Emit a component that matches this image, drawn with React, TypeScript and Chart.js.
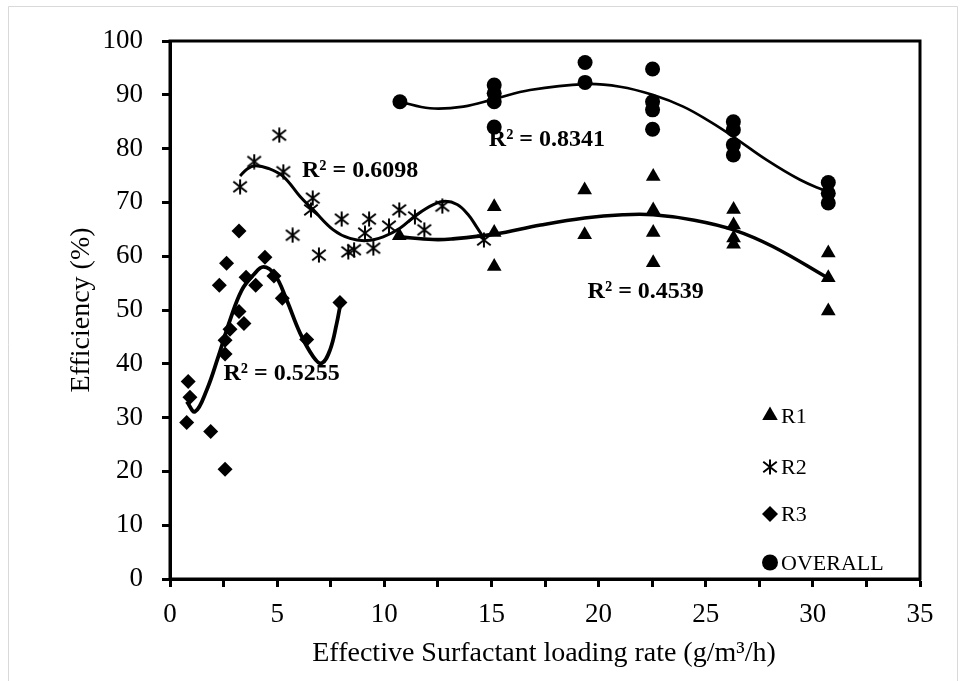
import React, { useEffect, useRef } from 'react';
import { Chart, registerables } from 'chart.js';

Chart.register(...registerables);

const FONT = '"Liberation Serif", "Times New Roman", serif';

// R1 (triangles)
const r1X = [10.7, 15.13, 15.13, 15.13, 19.35, 19.35, 22.55, 22.55, 22.55, 22.55, 26.3, 26.3, 26.3, 26.3, 30.72, 30.72, 30.72];
const r1Y = [63.8, 69.2, 64.4, 58.1, 72.3, 64.0, 74.8, 68.6, 64.4, 58.8, 68.7, 65.8, 63.4, 62.2, 60.6, 56.0, 49.8];

// R2 (asterisks)
const r2X = [3.27, 3.93, 5.1, 5.29, 5.72, 6.58, 6.66, 6.95, 8.01, 8.32, 8.59, 9.1, 9.29, 9.49, 10.22, 10.7, 11.43, 11.87, 12.71, 14.65];
const r2Y = [72.9, 77.6, 82.5, 75.7, 63.9, 68.6, 70.8, 60.2, 66.9, 60.8, 61.2, 64.3, 66.9, 61.5, 65.6, 68.6, 67.3, 64.9, 69.3, 63.0];

// R3 (diamonds)
const r3X = [0.78, 0.85, 0.93, 1.9, 2.3, 2.57, 2.57, 2.57, 2.64, 2.8, 3.22, 3.22, 3.45, 3.55, 4.0, 4.43, 4.85, 5.24, 6.38, 7.93];
const r3Y = [29.1, 36.7, 33.8, 27.4, 54.6, 20.4, 44.4, 41.8, 58.7, 46.4, 64.7, 49.7, 47.5, 56.1, 54.6, 59.8, 56.3, 52.2, 44.5, 51.4];

// OVERALL (circles)
const ovX = [10.73, 15.13, 15.13, 15.13, 15.13, 19.37, 19.37, 22.52, 22.52, 22.52, 22.52, 26.29, 26.29, 26.29, 26.29, 30.72, 30.72, 30.72];
const ovY = [88.7, 91.8, 90.3, 88.7, 84.0, 96.0, 92.3, 94.8, 88.7, 87.2, 83.6, 85.0, 83.5, 80.7, 78.8, 73.7, 71.7, 69.9];

// Trend lines
const r1TrendX = [10.71, 12.29, 13.13, 15.13, 17.3, 19.35, 21.13, 22.55, 24.47, 26.3, 28.13, 30.72];
const r1TrendY = [63.6, 63.1, 63.2, 64.1, 65.8, 67.1, 67.7, 67.7, 66.7, 64.9, 61.8, 55.9];

const r2TrendX = [3.27, 3.6, 3.97, 4.6, 5.29, 6.07, 6.69, 7.62, 8.4, 9.18, 9.95, 10.73, 11.51, 12.29, 12.85, 13.4, 13.9, 14.3, 14.65];
const r2TrendY = [74.9, 76.2, 76.8, 76.3, 74.8, 71.1, 68.6, 64.9, 63.3, 62.9, 63.6, 65.2, 67.7, 69.6, 70.2, 69.6, 67.8, 65.5, 63.3];

const r3TrendX = [0.78, 1.17, 1.71, 2.25, 2.8, 3.35, 3.89, 4.36, 4.9, 5.44, 6.07, 6.69, 7.08, 7.47, 7.78, 7.93];
const r3TrendY = [33.0, 31.1, 35.1, 41.3, 48.1, 53.7, 56.5, 58.0, 56.5, 51.9, 45.7, 41.3, 40.1, 42.6, 47.5, 50.6];

const ovTrendX = [10.73, 12.13, 13.69, 15.13, 16.8, 19.37, 21.0, 22.52, 23.95, 25.2, 26.29, 27.84, 29.4, 30.49, 30.72];
const ovTrendY = [88.7, 87.5, 87.8, 89.2, 90.9, 92.0, 91.5, 90.0, 87.8, 85.0, 82.2, 77.9, 74.2, 72.3, 72.0];

const legendNames = ['R1', 'R2', 'R3', 'OVERALL'];
// R² annotations: centre x and baseline y in data units
const r2Labels = [
  { text: 'R² = 0.6098', x: 8.87, y: 74.7 },
  { text: 'R² = 0.8341', x: 17.59, y: 80.4 },
  { text: 'R² = 0.4539', x: 22.2, y: 52.3 },
  { text: 'R² = 0.5255', x: 5.21, y: 37.0 },
];

const xTitle = 'Effective Surfactant loading rate (g/m³/h)';
const yTitle = 'Efficiency (%)';

function pts(xs: number[], ys: number[]) {
  return xs.map((x, i) => ({ x, y: ys[i] }));
}

function makeAsterisk(size: number, lw: number) {
  const c = document.createElement('canvas');
  c.width = size;
  c.height = size;
  const ctx = c.getContext('2d')!;
  ctx.strokeStyle = '#000';
  ctx.lineWidth = lw;
  const m = size / 2;
  const r = size / 2 - 0.5;
  const dx = r * 0.9;
  const dy = r * 0.7;
  ctx.beginPath();
  ctx.moveTo(m, m - r);
  ctx.lineTo(m, m + r);
  ctx.moveTo(m - dx, m - dy);
  ctx.lineTo(m + dx, m + dy);
  ctx.moveTo(m + dx, m - dy);
  ctx.lineTo(m - dx, m + dy);
  ctx.stroke();
  return c;
}

export default function App() {
  const ref = useRef<HTMLCanvasElement>(null);

  useEffect(() => {
    const canvas = ref.current!;
    const asterisk = makeAsterisk(16, 2);

    const drawMarker = (ctx: CanvasRenderingContext2D, kind: number, x: number, y: number) => {
      ctx.save();
      ctx.fillStyle = '#000';
      ctx.beginPath();
      if (kind === 0) {
        const r = 9;
        ctx.moveTo(x, y - r);
        ctx.lineTo(x + r * Math.sin((2 * Math.PI) / 3), y - r * Math.cos((2 * Math.PI) / 3));
        ctx.lineTo(x + r * Math.sin((4 * Math.PI) / 3), y - r * Math.cos((4 * Math.PI) / 3));
        ctx.closePath();
        ctx.fill();
      } else if (kind === 1) {
        ctx.drawImage(asterisk, x - asterisk.width / 2, y - asterisk.height / 2);
      } else if (kind === 2) {
        const r = 8;
        ctx.moveTo(x, y - r);
        ctx.lineTo(x + r, y);
        ctx.lineTo(x, y + r);
        ctx.lineTo(x - r, y);
        ctx.closePath();
        ctx.fill();
      } else {
        ctx.arc(x, y, 8, 0, Math.PI * 2);
        ctx.fill();
      }
      ctx.restore();
    };

    const decor = {
      id: 'decor',
      beforeDraw(chart: any) {
        const ctx = chart.ctx as CanvasRenderingContext2D;
        ctx.save();
        ctx.fillStyle = '#fff';
        ctx.fillRect(0, 0, chart.width, chart.height);
        ctx.strokeStyle = '#d9d9d9';
        ctx.lineWidth = 1;
        ctx.beginPath();
        ctx.moveTo(8.5, chart.height + 2);
        ctx.lineTo(8.5, 6.5);
        ctx.lineTo(957.5, 6.5);
        ctx.lineTo(957.5, chart.height + 2);
        ctx.stroke();
        ctx.restore();
      },
      afterDraw(chart: any) {
        const ctx = chart.ctx as CanvasRenderingContext2D;
        const a = chart.chartArea;
        const xs = chart.scales.x;
        const ys = chart.scales.y;
        ctx.save();
        // plot frame
        ctx.strokeStyle = '#000';
        ctx.lineWidth = 3;
        ctx.strokeRect(a.left, a.top, a.right - a.left, a.bottom - a.top);

        // R² labels
        ctx.fillStyle = '#000';
        ctx.font = `bold 24px ${FONT}`;
        ctx.textAlign = 'center';
        ctx.textBaseline = 'alphabetic';
        r2Labels.forEach((l) => {
          ctx.fillText(l.text, xs.getPixelForValue(l.x), ys.getPixelForValue(l.y));
        });

        // legend
        ctx.font = `22px ${FONT}`;
        ctx.textAlign = 'left';
        const rows = [415.5, 467, 514, 562.5];
        legendNames.forEach((n, i) => {
          drawMarker(ctx, i, a.right - 150, rows[i]);
          ctx.fillText(n, a.right - 139, rows[i] + 7);
        });

        // axis titles
        ctx.font = `28px ${FONT}`;
        ctx.textAlign = 'center';
        ctx.textBaseline = 'alphabetic';
        ctx.fillText(xTitle, 544, 661);
        ctx.save();
        ctx.translate(89, (a.top + a.bottom) / 2);
        ctx.rotate(-Math.PI / 2);
        ctx.fillText(yTitle, 0, 0);
        ctx.restore();
        ctx.restore();
      },
    };

    const scatter = (label: string, xs: number[], ys: number[], style: any, radius: number) => ({
      type: 'scatter' as const,
      label,
      data: pts(xs, ys),
      pointStyle: style,
      pointRadius: radius,
      pointHoverRadius: radius,
      backgroundColor: '#000',
      borderColor: '#000',
      borderWidth: 0,
      showLine: false,
    });

    const trend = (xs: number[], ys: number[], w: number) => ({
      type: 'line' as const,
      label: 'trend',
      data: pts(xs, ys),
      borderColor: '#000',
      borderWidth: w,
      pointRadius: 0,
      tension: 0.4,
      fill: false,
    });

    const tickGrid = {
      drawOnChartArea: false,
      drawTicks: true,
      tickLength: 8,
      tickWidth: 3,
      tickColor: '#000',
    };

    const chart = new Chart(canvas, {
      type: 'scatter',
      data: {
        datasets: [
          trend(r3TrendX, r3TrendY, 3.8),
          trend(r2TrendX, r2TrendY, 3),
          trend(r1TrendX, r1TrendY, 3.6),
          trend(ovTrendX, ovTrendY, 2.7),
          scatter('R1', r1X, r1Y, 'triangle', 8.5),
          scatter('R2', r2X, r2Y, asterisk, 7),
          scatter('R3', r3X, r3Y, 'rectRot', 7.5),
          scatter('OVERALL', ovX, ovY, 'circle', 7.5),
        ] as any,
      },
      options: {
        responsive: false,
        animation: false,
        events: [],
        layout: { padding: { top: 41, right: 44, left: 0, bottom: 0 } },
        plugins: {
          legend: { display: false },
          tooltip: { enabled: false },
          title: { display: false },
        },
        scales: {
          x: {
            type: 'linear',
            min: 0,
            max: 35,
            ticks: {
              stepSize: 2.5,
              autoSkip: false,
              maxRotation: 0,
              color: '#000',
              padding: 12,
              font: { family: FONT, size: 27 },
              callback: (v: any) => (Number(v) % 5 === 0 ? String(v) : ''),
            },
            grid: tickGrid,
            border: { display: true, color: '#000', width: 3 },
            afterFit: (s: any) => {
              s.height = 102;
            },
          },
          y: {
            type: 'linear',
            min: 0,
            max: 100,
            ticks: {
              stepSize: 10,
              color: '#000',
              padding: 19,
              font: { family: FONT, size: 27 },
            },
            grid: tickGrid,
            border: { display: true, color: '#000', width: 3 },
            afterFit: (s: any) => {
              s.width = 170;
            },
          },
        },
      } as any,
      plugins: [decor],
    });

    return () => chart.destroy();
  }, []);

  return (
    <div style={{ position: 'fixed', left: 0, top: 0, width: 964, height: 681, background: '#fff' }}>
      <canvas ref={ref} width={964} height={681} style={{ display: 'block' }} />
    </div>
  );
}
